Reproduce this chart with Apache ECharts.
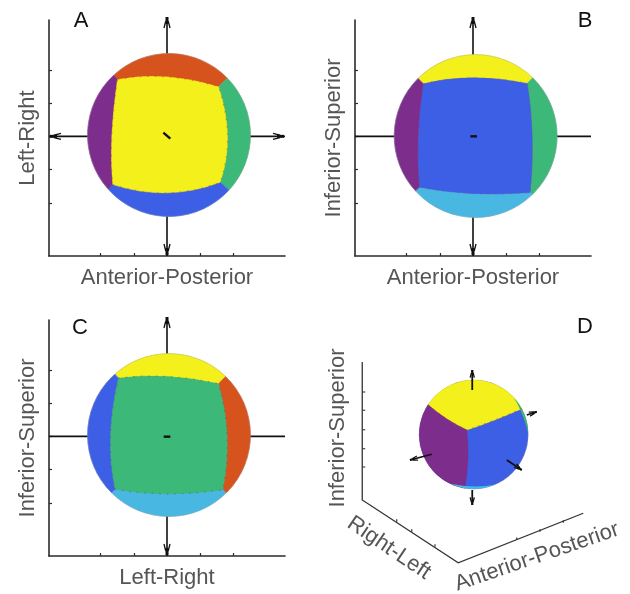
<!DOCTYPE html>
<html><head><meta charset="utf-8">
<script src="https://cdn.jsdelivr.net/npm/echarts@6/dist/echarts.min.js"></script>
<style>html,body{margin:0;padding:0;background:#fff}#c{width:630px;height:594px}</style>
</head><body><div id="c"></div>
<script>
// ---------------- data ----------------
const panelLetters = ['A', 'B', 'C', 'D'];
const xAxisNames = ['Anterior-Posterior', 'Anterior-Posterior', 'Left-Right'];
const yAxisNames = ['Left-Right', 'Inferior-Superior', 'Inferior-Superior'];
const dAxisNames = ['Inferior-Superior', 'Right-Left', 'Anterior-Posterior'];
const tickValues = [-2, -1, 0, 1, 2];
const xExtent = [-3.55, 3.55];
const yExtent = [-3.6, 3.5];
const sphereRadius = 2.45;
const sphereCenters = [[0.06, 0.04], [0.08, 0.01], [0.06, 0.04]];
// face colours: centre, top, right, bottom, left
const faceColorsA = ['#f4f01c', '#d6531e', '#3cb878', '#3c5fe6', '#7d2d8c'];
const faceColorsB = ['#3c5fe6', '#f4f01c', '#3cb878', '#48b8e2', '#7d2d8c'];
const faceColorsC = ['#3cb878', '#f4f01c', '#d6531e', '#48b8e2', '#3c5fe6'];
// centre-face corners: TL, TR, BR, BL
const cornersA = [[-1.49, 1.71], [1.55, 1.49], [1.60, -1.38], [-1.63, -1.45]];
const cornersB = [[-1.49, 1.58], [1.63, 1.59], [1.72, -1.69], [-1.61, -1.53]];
const cornersC = [[-1.46, 1.75], [1.55, 1.58], [1.68, -1.61], [-1.56, -1.59]];
// centre-face edge midpoints: top, right, bottom, left
const edgeMidsA = [[0, 1.79], [1.82, 0], [0, -1.70], [-1.66, 0]];
const edgeMidsB = [[0, 1.76], [1.78, 0], [0, -1.72], [-1.64, 0]];
const edgeMidsC = [[0, 1.80], [1.81, 0], [0, -1.73], [-1.70, 0]];
// arrows on [horizontal, vertical] pointer lines
const arrowFlags = [[true, true], [false, true], [false, true]];
const centreMarkA = [[-0.11, 0.11], [0.10, -0.07]];
const centreMarkB = [[-0.08, 0.0], [0.12, 0.0]];
const centreMarkC = [[-0.10, -0.01], [0.10, -0.01]];
// panel D (oblique view)
const dAxisPath = [[1.29, 9.12], [1.29, 3.6], [5.13, 1.09], [10.13, 3.07]];
const dVertTicks = [7.92, 7.19, 6.41, 5.65, 4.92];
const dSlantTicks = [[2.67, 2.73], [3.27, 2.33], [4.2, 1.73], [7.47, 2.0], [8.4, 2.33], [9.33, 2.69]];
const dSphereCenter = [5.75, 6.22];
const dSphereRadius = 2.18;
const dJunction = [5.47, 6.4];
const dYellowEnds = [[3.93, 7.4], [7.57, 7.2]];
const dYellowMids = [[4.67, 6.84], [6.53, 6.78]];
const dPurpleEnd = [5.4, 4.08];
const dPurpleMid = [5.52, 5.32];
const dGreenSliver = [[7.32, 7.68], [7.65, 7.12], [7.92, 6.3]];
const dCyanSliver = [[4.8, 4.2], [5.75, 4.14], [6.6, 4.24]];
const dColors = ['#3c5fe6', '#f4f01c', '#7d2d8c', '#3cb878', '#48b8e2'];
const dPointers = [
  [[5.69, 8.0], [5.69, 8.8]],
  [[5.69, 4.0], [5.69, 3.4]],
  [[7.87, 7.0], [8.27, 7.13]],
  [[4.07, 5.43], [3.2, 5.2]],
  [[7.07, 5.2], [7.67, 4.8]]
];

// ---------------- drawing ----------------
const FONT = '"Liberation Sans", Arial, Helvetica, sans-serif';
const INK = '#2b2b2b';
const faceColors = [faceColorsA, faceColorsB, faceColorsC];
const corners = [cornersA, cornersB, cornersC];
const edgeMids = [edgeMidsA, edgeMidsB, edgeMidsC];
const centreMarks = [centreMarkA, centreMarkB, centreMarkC];
const speckle = ['#c0452a', '#b84a3a', '#8a3a8c'];

const grids = [
  { left: 49, top: 20, width: 236, height: 236 },
  { left: 355, top: 20, width: 236, height: 236 },
  { left: 49, top: 320, width: 236, height: 236 },
  { left: 330, top: 340, width: 275, height: 250 }
];

function qc(a, b, m) { return [2 * m[0] - (a[0] + b[0]) / 2, 2 * m[1] - (a[1] + b[1]) / 2]; }
function f(p) { return p[0].toFixed(2) + ' ' + p[1].toFixed(2); }

function arrowHead(tip, dir, scale) {
  // dir: unit vector pointing outward; thick tip followed by a small flared cone
  const s = scale || 1;
  const nx = -dir[1], ny = dir[0];
  const at = k => [tip[0] - dir[0] * k * s, tip[1] - dir[1] * k * s];
  const stem = at(7);
  const a0 = at(4), a1 = at(11);
  return [
    { type: 'line', shape: { x1: tip[0], y1: tip[1], x2: stem[0], y2: stem[1] }, style: { stroke: '#111', lineWidth: 3 * s } },
    {
      type: 'polyline',
      shape: { points: [[a1[0] + nx * 3 * s, a1[1] + ny * 3 * s], [a0[0] + nx * 1.2 * s, a0[1] + ny * 1.2 * s]] },
      style: { stroke: '#111', lineWidth: 1.3, fill: null }
    },
    {
      type: 'polyline',
      shape: { points: [[a1[0] - nx * 3 * s, a1[1] - ny * 3 * s], [a0[0] - nx * 1.2 * s, a0[1] - ny * 1.2 * s]] },
      style: { stroke: '#111', lineWidth: 1.3, fill: null }
    }
  ];
}

function sphereSeries(p) {
  return {
    type: 'custom', coordinateSystem: 'cartesian2d', xAxisIndex: p, yAxisIndex: p,
    data: [[0, 0]], silent: true, animation: false, clip: false,
    renderItem: function (params, api) {
      const P = v => api.coord(v);
      const ch = [];
      // pointer lines through the sphere
      const h0 = P([xExtent[0], 0]), h1 = P([xExtent[1], 0]);
      const v0 = P([0, yExtent[0]]), v1 = P([0, yExtent[1]]);
      ch.push({ type: 'line', shape: { x1: h0[0], y1: h0[1], x2: h1[0], y2: h1[1] }, style: { stroke: '#111', lineWidth: 1.6 } });
      ch.push({ type: 'line', shape: { x1: v0[0], y1: v0[1], x2: v1[0], y2: v1[1] - 3 }, style: { stroke: '#111', lineWidth: 1.6 } });
      if (arrowFlags[p][0]) {
        ch.push(...arrowHead([h0[0] + 1, h0[1]], [-1, 0]));
        ch.push(...arrowHead([h1[0] - 1, h1[1]], [1, 0]));
      }
      if (arrowFlags[p][1]) {
        ch.push(...arrowHead([v1[0], v1[1] - 3], [0, -1]));
        ch.push(...arrowHead([v0[0], v0[1] - 1], [0, 1]));
      }
      // sphere side bands
      const c = P(sphereCenters[p]);
      const r = api.size([sphereRadius, 0])[0];
      const pc = corners[p].map(P);
      const ang = pc.map(q => Math.atan2(q[1] - c[1], q[0] - c[0]));
      const cols = faceColors[p];
      for (let i = 0; i < 4; i++) {
        const s = ang[i];
        let e = ang[(i + 1) % 4];
        while (e <= s) e += Math.PI * 2;
        ch.push({
          type: 'sector',
          shape: { cx: c[0], cy: c[1], r0: 0, r: r, startAngle: s, endAngle: e, clockwise: true },
          style: { fill: cols[i + 1], stroke: cols[i + 1], lineWidth: 0.6 }
        });
      }
      ch.push({ type: 'circle', shape: { cx: c[0], cy: c[1], r: r }, style: { fill: null, stroke: 'rgba(150,150,150,0.35)', lineWidth: 1 } });
      // centre face
      let d = 'M' + f(pc[0]);
      for (let i = 0; i < 4; i++) {
        const a = pc[i], b = pc[(i + 1) % 4], m = P(edgeMids[p][i]);
        d += ' Q' + f(qc(a, b, m)) + ' ' + f(b);
      }
      d += ' Z';
      ch.push({ type: 'path', shape: { pathData: d }, style: { fill: cols[0], stroke: cols[0], lineWidth: 0.5 } });
      ch.push({ type: 'path', shape: { pathData: d }, style: { fill: null, stroke: speckle[p], lineWidth: 1.2, lineDash: [1.5, 6], opacity: 0.5 } });
      // centre mark
      const m0 = P(centreMarks[p][0]), m1 = P(centreMarks[p][1]);
      ch.push({ type: 'line', shape: { x1: m0[0], y1: m0[1], x2: m1[0], y2: m1[1] }, style: { stroke: '#111', lineWidth: 2.4 } });
      return { type: 'group', children: ch };
    }
  };
}

function panelDSeries() {
  return {
    type: 'custom', coordinateSystem: 'cartesian2d', xAxisIndex: 3, yAxisIndex: 3,
    data: [[0, 0]], silent: true, animation: false, clip: false,
    renderItem: function (params, api) {
      const P = v => api.coord(v);
      const ch = [];
      // oblique axes
      ch.push({ type: 'polyline', shape: { points: dAxisPath.map(P) }, style: { stroke: '#333', lineWidth: 1.3, fill: null } });
      dVertTicks.forEach(y => {
        const q = P([dAxisPath[0][0], y]);
        ch.push({ type: 'line', shape: { x1: q[0], y1: q[1], x2: q[0] + 3, y2: q[1] }, style: { stroke: '#333', lineWidth: 1.1 } });
      });
      dSlantTicks.forEach(t => {
        const q = P(t);
        ch.push({ type: 'line', shape: { x1: q[0], y1: q[1], x2: q[0], y2: q[1] - 2.5 }, style: { stroke: '#333', lineWidth: 1.2 } });
      });
      // sphere
      const c = P(dSphereCenter);
      const r = api.size([dSphereRadius, 0])[0];
      const snap = v => { const q = P(v); const a = Math.atan2(q[1] - c[1], q[0] - c[0]); return [c[0] + r * Math.cos(a), c[1] + r * Math.sin(a)]; };
      ch.push({ type: 'circle', shape: { cx: c[0], cy: c[1], r: r }, style: { fill: dColors[0], stroke: 'rgba(150,150,150,0.35)', lineWidth: 1 } });
      const J = P(dJunction), L = snap(dYellowEnds[0]), R = snap(dYellowEnds[1]), B = snap(dPurpleEnd);
      const mL = P(dYellowMids[0]), mR = P(dYellowMids[1]), mB = P(dPurpleMid);
      const rr = r.toFixed(2) + ' ' + r.toFixed(2);
      const yel = 'M' + f(J) + ' Q' + f(qc(J, L, mL)) + ' ' + f(L) + ' A' + rr + ' 0 0 1 ' + f(R) + ' Q' + f(qc(R, J, mR)) + ' ' + f(J) + ' Z';
      const pur = 'M' + f(J) + ' Q' + f(qc(J, L, mL)) + ' ' + f(L) + ' A' + rr + ' 0 0 0 ' + f(B) + ' Q' + f(qc(B, J, mB)) + ' ' + f(J) + ' Z';
      ch.push({ type: 'path', shape: { pathData: yel }, style: { fill: dColors[1], stroke: dColors[1], lineWidth: 0.5 } });
      ch.push({ type: 'path', shape: { pathData: pur }, style: { fill: dColors[2], stroke: dColors[2], lineWidth: 0.5 } });
      const G1 = snap(dGreenSliver[0]), G3 = snap(dGreenSliver[2]), Gm = P(dGreenSliver[1]);
      ch.push({ type: 'path', shape: { pathData: 'M' + f(G1) + ' A' + rr + ' 0 0 1 ' + f(G3) + ' Q' + f(qc(G3, G1, Gm)) + ' ' + f(G1) + ' Z' }, style: { fill: dColors[3] } });
      const C1 = snap(dCyanSliver[2]), C3 = snap(dCyanSliver[0]), Cm = P(dCyanSliver[1]);
      ch.push({ type: 'path', shape: { pathData: 'M' + f(C1) + ' A' + rr + ' 0 0 1 ' + f(C3) + ' Q' + f(qc(C3, C1, Cm)) + ' ' + f(C1) + ' Z' }, style: { fill: dColors[4] } });
      // boundary speckles
      ch.push({ type: 'path', shape: { pathData: 'M' + f(L) + ' Q' + f(qc(L, J, mL)) + ' ' + f(J) + ' Q' + f(qc(J, R, mR)) + ' ' + f(R) }, style: { fill: null, stroke: '#c0452a', lineWidth: 1.2, lineDash: [1.5, 5], opacity: 0.6 } });
      // pointers (from sphere outward)
      dPointers.forEach(seg => {
        const a = P(seg[0]), b = P(seg[1]);
        ch.push({ type: 'line', shape: { x1: a[0], y1: a[1], x2: b[0], y2: b[1] }, style: { stroke: '#111', lineWidth: 1.8 } });
        const dx = b[0] - a[0], dy = b[1] - a[1], n = Math.hypot(dx, dy);
        ch.push(...arrowHead(b, [dx / n, dy / n], 0.7));
      });
      return { type: 'group', children: ch };
    }
  };
}

const nameStyle = { fontFamily: FONT, fontSize: 22, color: '#555' };
const xAxes = [0, 1, 2].map(i => ({
  gridIndex: i, type: 'value', min: xExtent[0], max: xExtent[1],
  axisLine: { show: true, onZero: false, lineStyle: { color: INK, width: 1.6 } },
  axisTick: { show: true, inside: true, length: 3, customValues: tickValues, lineStyle: { color: INK, width: 1.2 } },
  axisLabel: { show: false }, splitLine: { show: false },
  name: xAxisNames[i], nameLocation: 'middle', nameGap: 11, nameTextStyle: nameStyle
}));
const yAxes = [0, 1, 2].map(i => ({
  gridIndex: i, type: 'value', min: yExtent[0], max: yExtent[1],
  axisLine: { show: true, onZero: false, lineStyle: { color: INK, width: 1.6 } },
  axisTick: { show: true, inside: true, length: 3, customValues: tickValues, lineStyle: { color: INK, width: 1.2 } },
  axisLabel: { show: false }, splitLine: { show: false },
  name: yAxisNames[i], nameLocation: 'middle', nameGap: 10, nameTextStyle: nameStyle
}));
xAxes.push({ gridIndex: 3, type: 'value', min: 0, max: 11, show: false });
yAxes.push({ gridIndex: 3, type: 'value', min: 0, max: 10, show: false });

const letterPos = [[81, 21], [585, 21], [80, 328], [585, 327]];
const dLabelPos = [[338, 428, Math.PI / 2], [389, 548, -34 * Math.PI / 180], [537, 557, 19 * Math.PI / 180]];
const graphics = [];
panelLetters.forEach((t, i) => graphics.push({
  type: 'text', x: letterPos[i][0], y: letterPos[i][1], silent: true,
  style: { text: t, fill: '#111', font: '22px ' + FONT, align: 'center', verticalAlign: 'middle', textAlign: 'center', textVerticalAlign: 'middle' }
}));
dAxisNames.forEach((t, i) => graphics.push({
  type: 'text', x: dLabelPos[i][0], y: dLabelPos[i][1], rotation: dLabelPos[i][2], silent: true,
  style: { text: t, fill: '#555', font: '22px ' + FONT, align: 'center', verticalAlign: 'middle', textAlign: 'center', textVerticalAlign: 'middle' }
}));

const chart = echarts.init(document.getElementById('c'), null, { renderer: 'canvas' });
chart.setOption({
  animation: false,
  backgroundColor: '#fff',
  grid: grids,
  xAxis: xAxes,
  yAxis: yAxes,
  series: [sphereSeries(0), sphereSeries(1), sphereSeries(2), panelDSeries()],
  graphic: graphics
});
</script></body></html>
